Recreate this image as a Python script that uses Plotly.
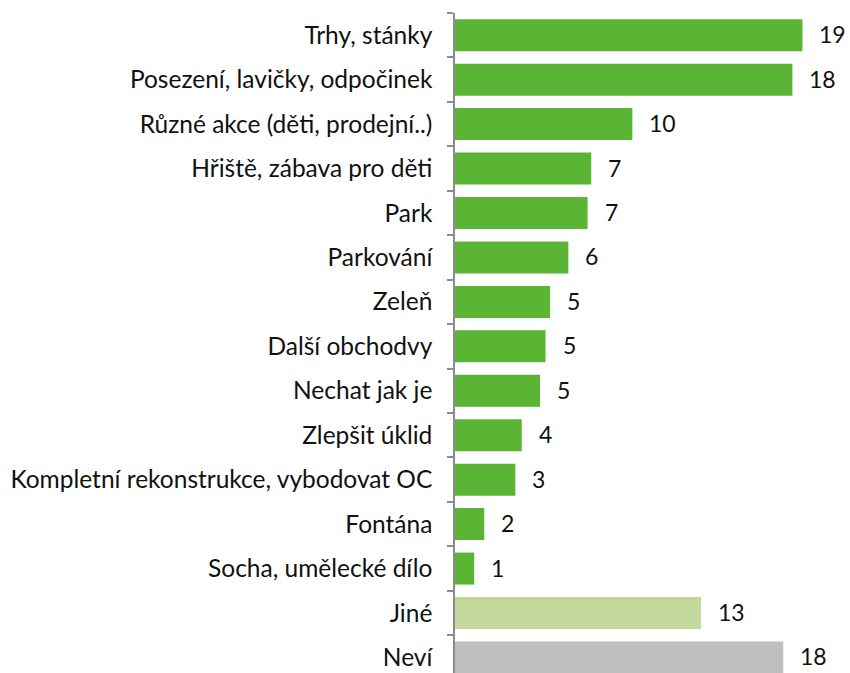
import plotly.graph_objects as go

categories = [
    "Trhy, stánky",
    "Posezení, lavičky, odpočinek",
    "Různé akce (děti, prodejní..)",
    "Hřiště, zábava pro děti",
    "Park",
    "Parkování",
    "Zeleň",
    "Další obchodvy",
    "Nechat jak je",
    "Zlepšit úklid",
    "Kompletní rekonstrukce, vybodovat OC",
    "Fontána",
    "Socha, umělecké dílo",
    "Jiné",
    "Neví",
]
values = [19.0, 18.45, 9.7, 7.45, 7.25, 6.2, 5.2, 4.95, 4.65, 3.65, 3.3, 1.6, 1.05, 13.45, 17.95]
value_labels = ["19", "18", "10", "7", "7", "6", "5", "5", "5", "4", "3", "2", "1", "13", "18"]

GREEN = "#5BB534"
LIGHT = "#C4D89C"
GRAY = "#BEBEBE"
colors = [GREEN] * 13 + [LIGHT, GRAY]

FONT = "Lato"

fig = go.Figure()
fig.add_trace(go.Bar(
    x=values,
    y=categories,
    orientation="h",
    marker=dict(color=colors, line=dict(width=0)),
    hoverinfo="skip",
))

for c, v, lab in zip(categories, values, value_labels):
    fig.add_annotation(
        x=v, y=c, text=lab, showarrow=False,
        xanchor="left", yanchor="middle", xshift=15, yshift=1,
        font=dict(family=FONT, size=23, color="#111111"),
    )

fig.update_layout(
    width=850, height=673,
    margin=dict(l=455, r=0, t=13, b=0, autoexpand=False),
    paper_bgcolor="white", plot_bgcolor="white",
    bargap=0.28,
    showlegend=False,
    xaxis=dict(range=[0, 21.6], showticklabels=False, showgrid=False,
               zeroline=False, showline=False, ticks=""),
    yaxis=dict(
        type="category",
        categoryorder="array", categoryarray=categories,
        range=[14.35, -0.5],
        showline=True, linecolor="#8C8C8C", linewidth=1.5,
        ticks="outside", tickson="boundaries", ticklen=6,
        tickcolor="#8C8C8C", tickwidth=1.5,
        ticklabelstandoff=16,
        showgrid=False, automargin=False,
        tickfont=dict(family=FONT, size=24.5, color="#111111"),
    ),
)

fig.write_html("out.html")
